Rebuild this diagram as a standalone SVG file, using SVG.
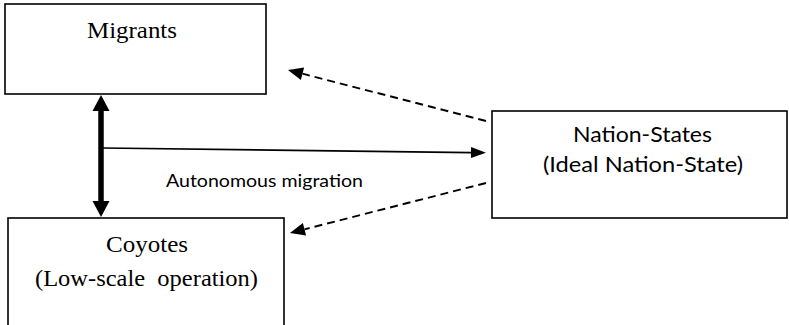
<svg xmlns="http://www.w3.org/2000/svg" width="789" height="325" viewBox="0 0 789 325">
<style>
.box{fill:#fff;stroke:#000;stroke-width:1.6}
.serif{font-family:"Liberation Serif","Times New Roman",serif;font-size:24px;fill:#000}
.sans{font-family:Lato,"Liberation Sans",sans-serif;fill:#000}
.dash{fill:none;stroke:#000;stroke-width:1.9;stroke-dasharray:8 5}
</style>
<defs>
<marker id="thick" markerUnits="userSpaceOnUse" markerWidth="18" markerHeight="18" refX="0" refY="8.5" orient="auto-start-reverse" overflow="visible">
<path d="M0,0 L16,8.5 L0,17 Z" fill="#000"/>
</marker>
<marker id="solid" markerUnits="userSpaceOnUse" markerWidth="15" markerHeight="11" refX="0" refY="5.5" orient="auto" overflow="visible">
<path d="M0,0 L15,5.5 L0,11 Z" fill="#000"/>
</marker>
<marker id="dashhead" markerUnits="userSpaceOnUse" markerWidth="15" markerHeight="13" refX="0" refY="6.5" orient="auto" overflow="visible">
<path d="M0,0 L15,6.5 L0,13 Z" fill="#000"/>
</marker>
</defs>
<g id="migrants">
<rect class="box" x="5" y="4" width="261" height="90"/>
<text class="serif" x="132" y="38" text-anchor="middle" textLength="90" lengthAdjust="spacingAndGlyphs">Migrants</text>
</g>
<g id="coyotes">
<rect class="box" x="8" y="218" width="276" height="130"/>
<text class="serif" x="147" y="252" text-anchor="middle" textLength="82" lengthAdjust="spacingAndGlyphs">Coyotes</text>
<text class="serif" x="146.5" y="286" text-anchor="middle" textLength="223" lengthAdjust="spacingAndGlyphs" xml:space="preserve">(Low-scale  operation)</text>
</g>
<g id="nation-states">
<rect class="box" x="492" y="111" width="295" height="107"/>
<text class="sans" x="642.5" y="142" font-size="21" text-anchor="middle" textLength="139" lengthAdjust="spacingAndGlyphs">Nation-States</text>
<text class="sans" x="643" y="172" font-size="21" text-anchor="middle" textLength="200" lengthAdjust="spacingAndGlyphs">(Ideal Nation-State)</text>
</g>
<g id="connectors">
<line x1="101" y1="111" x2="101" y2="201" stroke="#000" stroke-width="5.5" marker-start="url(#thick)" marker-end="url(#thick)"/>
<line x1="103" y1="148" x2="471" y2="152.6" stroke="#000" stroke-width="1.6" marker-end="url(#solid)"/>
<line class="dash" x1="486" y1="121" x2="302.5" y2="73.7" marker-end="url(#dashhead)"/>
<line class="dash" x1="486" y1="183" x2="304.5" y2="229.3" marker-end="url(#dashhead)"/>
<text class="sans" x="166" y="187" font-size="17" textLength="197" lengthAdjust="spacingAndGlyphs">Autonomous migration</text>
</g>
</svg>
